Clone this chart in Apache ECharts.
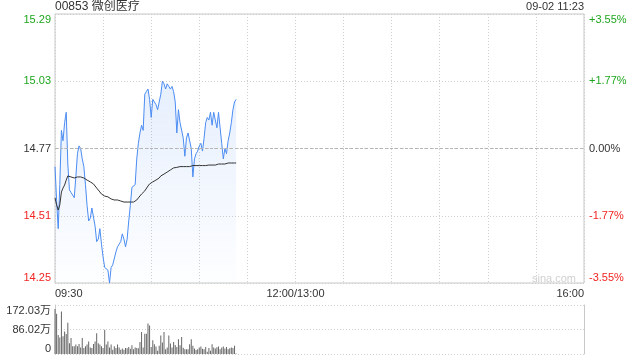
<!DOCTYPE html>
<html><head><meta charset="utf-8">
<script src="https://cdn.jsdelivr.net/npm/echarts@6/dist/echarts.min.js"></script>
<style>html,body{margin:0;padding:0;background:#fff}#c{width:640px;height:360px}</style>
</head><body><div id="c"></div>
<script>
const stockTitle = '00853 微创医疗';
const timeStamp = '09-02 11:23';
const prevClose = 14.77;
const priceMin = 14.25, priceMax = 15.29, priceStep = 0.26;
const pctTicks = ['-3.55%', '-1.77%', '0.00%', '+1.77%', '+3.55%'];
const timeLabels = {0: '09:30', 150: '12:00/13:00', 330: '16:00'};
const sessionMinutes = 330;
const volTicks = ['0', '86.02万', '172.03万'];
const volMax = 172.03;

// one value per minute from 09:30
const price = [
14.70,14.57,14.46,14.63,14.84,14.80,14.87,14.91,14.71,14.61,
14.60,14.59,14.58,14.66,14.75,14.78,14.77,14.73,14.70,14.63,
14.55,14.49,14.50,14.54,14.54,14.47,14.41,14.42,14.46,14.40,
14.35,14.31,14.31,14.30,14.25,14.31,14.32,14.32,14.37,14.39,
14.40,14.41,14.44,14.42,14.39,14.42,14.49,14.55,14.62,14.62,
14.63,14.73,14.79,14.83,14.86,14.84,14.98,14.99,15.00,14.96,
14.89,14.96,14.95,14.94,14.92,14.92,14.98,15.03,15.02,15.00,
15.02,15.01,15.00,15.01,14.99,14.95,14.83,14.92,14.87,14.87,
14.81,14.74,14.81,14.83,14.83,14.77,14.66,14.73,14.75,14.76,
14.78,14.79,14.76,14.81,14.87,14.89,14.88,14.91,14.86,14.91,
14.91,14.85,14.91,14.85,14.79,14.73,14.77,14.75,14.80,14.83,
14.87,14.92,14.95,14.96
];
const avgPrice = [
14.579,14.552,14.532,14.552,14.602,14.617,14.629,14.648,14.664,14.664,
14.660,14.656,14.656,14.660,14.660,14.660,14.660,14.660,14.656,14.652,
14.648,14.644,14.641,14.637,14.633,14.625,14.617,14.610,14.602,14.594,
14.590,14.586,14.583,14.583,14.579,14.575,14.575,14.571,14.571,14.571,
14.567,14.567,14.567,14.563,14.563,14.563,14.563,14.563,14.563,14.563,
14.567,14.571,14.579,14.586,14.594,14.598,14.606,14.613,14.625,14.633,
14.637,14.641,14.644,14.648,14.652,14.656,14.664,14.668,14.671,14.675,
14.679,14.683,14.687,14.691,14.695,14.697,14.697,14.697,14.700,14.700,
14.700,14.700,14.700,14.700,14.700,14.700,14.704,14.704,14.704,14.704,
14.704,14.704,14.704,14.704,14.704,14.706,14.706,14.706,14.706,14.706,
14.706,14.710,14.710,14.710,14.710,14.710,14.710,14.714,14.714,14.714,
14.714,14.714,14.714,14.714
];
// volume in 万
const volume = [
158,141,67,58,149,62,79,70,110,38,
56,27,27,33,27,35,23,56,21,27,
33,44,23,21,35,44,73,38,33,27,
21,85,33,44,23,33,15,27,21,33,
23,15,19,15,21,20,25,18,31,17,
23,21,20,42,77,23,71,71,107,100,
25,48,34,26,11,29,65,40,77,17,
23,65,37,23,42,32,25,52,31,60,
22,17,17,17,34,52,29,19,14,17,
23,26,18,17,25,8,21,11,34,23,
19,24,26,17,23,26,19,25,17,20,
23,21,29,2
];

const GREEN = '#1fa61f', RED = '#f22323', DARK = '#333';
const FONT = 'Liberation Sans, Arial, Noto Sans CJK SC, sans-serif';
const tickColor = v => (Math.abs(v - prevClose) < 1e-6 ? DARK : (v > prevClose ? GREEN : RED));

const chart = echarts.init(document.getElementById('c'), null, {renderer: 'canvas'});
chart.setOption({
  animation: false,
  textStyle: {fontFamily: FONT},
  grid: [
    {left: 55, right: 56, top: 14, height: 269, show: true, borderColor: '#c8c8c8', borderWidth: 1},
    {left: 55, right: 56, top: 305, height: 49}
  ],
  graphic: [
    {type: 'text', left: 55, top: 1, style: {text: stockTitle, fill: DARK, font: '12px ' + FONT}},
    {type: 'text', right: 56, top: 1, style: {text: timeStamp, fill: DARK, font: '11px ' + FONT}},
    {type: 'text', left: 532, top: 273, style: {text: 'sina.com', fill: '#d0d0d0', font: '11px ' + FONT}}
  ],
  xAxis: [
    {type: 'value', gridIndex: 0, min: 0, max: sessionMinutes, interval: 30,
     axisLine: {show: false}, axisTick: {show: false},
     splitLine: {show: true, lineStyle: {color: '#cfcfcf', type: [1, 2]}},
     axisLabel: {show: true, interval: 0, margin: 5, color: DARK, fontSize: 11, fontFamily: FONT,
       alignMinLabel: 'left', alignMaxLabel: 'right',
       formatter: v => timeLabels[Math.round(v)] || ''}},
    {type: 'value', gridIndex: 1, min: 0, max: sessionMinutes, interval: 30,
     axisLine: {show: false}, axisTick: {show: false}, axisLabel: {show: false}, splitLine: {show: false}}
  ],
  yAxis: [
    {type: 'value', gridIndex: 0, min: priceMin, max: priceMax, interval: priceStep,
     axisLine: {show: false}, axisTick: {show: false},
     splitLine: {show: true, lineStyle: {color: '#cfcfcf', type: [1, 2]}},
     axisLabel: {margin: 4, fontSize: 11, fontFamily: FONT,
       verticalAlignMinLabel: 'bottom', verticalAlignMaxLabel: 'top',
       formatter: v => v.toFixed(2), color: v => tickColor(+v)}},
    {type: 'value', gridIndex: 0, position: 'right', min: priceMin, max: priceMax, interval: priceStep,
     axisLine: {show: false}, axisTick: {show: false}, splitLine: {show: false},
     axisLabel: {margin: 5, fontSize: 11, fontFamily: FONT,
       verticalAlignMinLabel: 'bottom', verticalAlignMaxLabel: 'top',
       formatter: (v, i) => pctTicks[i], color: v => tickColor(+v)}},
    {type: 'value', gridIndex: 1, min: 0, max: volMax, interval: volMax / 2,
     axisLine: {show: true, lineStyle: {color: '#c8c8c8'}}, axisTick: {show: false},
     splitLine: {show: true, lineStyle: {color: '#cfcfcf', type: [1, 2]}},
     axisLabel: {margin: 4, fontSize: 11, color: DARK, fontFamily: FONT,
       verticalAlignMinLabel: 'bottom', verticalAlignMaxLabel: 'top',
       formatter: (v, i) => volTicks[i]}},
    {type: 'value', gridIndex: 1, position: 'right', min: 0, max: volMax, interval: volMax / 2,
     axisLine: {show: true, lineStyle: {color: '#c8c8c8'}}, axisTick: {show: false},
     splitLine: {show: false}, axisLabel: {show: false}}
  ],
  series: [
    {type: 'line', xAxisIndex: 0, yAxisIndex: 0, showSymbol: false, symbol: 'none',
     data: price.map((p, i) => [i, p]),
     lineStyle: {color: '#4b8cf2', width: 1},
     areaStyle: {origin: 'start', color: new echarts.graphic.LinearGradient(0, 0, 0, 1, [
       {offset: 0, color: 'rgba(75,140,242,0.20)'},
       {offset: 1, color: 'rgba(75,140,242,0.01)'}])},
     markLine: {silent: true, symbol: 'none', label: {show: false},
       lineStyle: {color: '#b5b5b5', type: [3, 2], width: 1},
       data: [{yAxis: prevClose}]}},
    {type: 'line', xAxisIndex: 0, yAxisIndex: 0, showSymbol: false, symbol: 'none',
     data: avgPrice.map((p, i) => [i, p]),
     lineStyle: {color: '#333', width: 1}},
    {type: 'bar', xAxisIndex: 1, yAxisIndex: 2, barWidth: 1,
     data: volume.map((v, i) => [i, v]),
     itemStyle: {color: '#666'}}
  ]
});
</script>
</body></html>
